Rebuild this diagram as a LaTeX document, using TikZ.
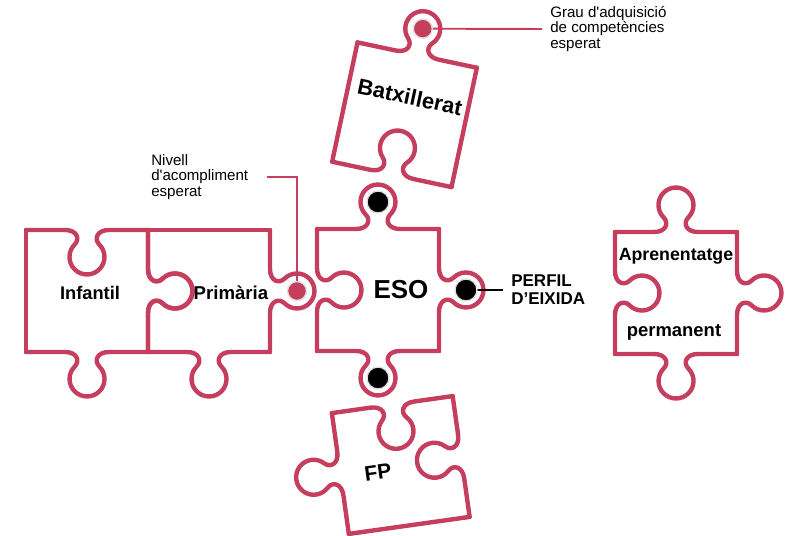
\documentclass[tikz,border=0pt]{standalone}
\usepackage{fontspec}
\setmainfont{Liberation Sans}
\definecolor{pzred}{RGB}{197,62,94}
\newcommand{\piece}[4]{%
  \foreach \ang/\s in {0/#1,90/#2,180/#3,270/#4}
    \pic[transform shape,rotate=\ang] {\s};}

\begin{document}
\begin{tikzpicture}[x=0.02cm,y=0.02cm,
    pzline/.style={draw=pzred,line width=2.5pt,line cap=round,line join=round},
    link/.style={line width=1.1pt},
    lbl/.style={align=left,inner xsep=4.5pt,inner ysep=0pt,
      font=\fontsize{8.6}{8.8}\selectfont},
    pztext/.style={font=\bfseries\fontsize{#1}{#1}\selectfont,inner sep=0pt},
    tab/.pic={\draw[pzline] (-61,61) -- (-22,61) .. controls (-10,61) and (-6.7,69.9) .. (-12.4,75.6)
      arc(225:-45:17.5) .. controls (6.7,69.9) and (10,61) .. (22,61) -- (61,61);},
    hole/.pic={\draw[pzline] (-61,61) -- (-22,61) .. controls (-10,61) and (-6.7,52.1) .. (-12.4,46.4)
      arc(135:405:17.5) .. controls (6.7,52.1) and (10,61) .. (22,61) -- (61,61);},
    flat/.pic={\draw[pzline] (-61,61) -- (61,61);},
    reddot/.style={fill=pzred,draw=black!12,line width=0.8pt},
    blackdot/.style={fill=black,draw=black!12,line width=0.8pt}]
  \useasboundingbox (0,0) rectangle (788,-536);

  % pieces: top, left, bottom, right
  \begin{scope}[shift={(87,-291)}]
    \piece{hole}{flat}{tab}{tab}
  \end{scope}
  \begin{scope}[shift={(209,-291)}]
    \piece{flat}{hole}{tab}{tab}
    \coordinate (pknob) at (88,0);
  \end{scope}
  \begin{scope}[shift={(378,-290)}]
    \piece{tab}{hole}{tab}{tab}
    \coordinate (etop) at (0,88);
    \coordinate (ebot) at (0,-88);
    \coordinate (eknob) at (88,0);
  \end{scope}
  \begin{scope}[shift={(676,-293)}]
    \piece{tab}{hole}{tab}{tab}
  \end{scope}
  \begin{scope}[shift={(404.5,-114.75)},rotate=-12]
    \piece{tab}{flat}{hole}{flat}
    \coordinate (bknob) at (0,88);
  \end{scope}
  \begin{scope}[shift={(400.75,-465)},rotate=8]
    \piece{hole}{tab}{flat}{hole}
  \end{scope}

  \node[pztext=10.4] (inf) at (90,-293) {Infantil};
  \node[pztext=10.6] (prim) at (231,-293) {Primària};
  \node[pztext=14.8] (eso) at (401,-290) {ESO};
  \node[pztext=10.1] (apr) at (676,-256) {Aprenentatge};
  \node[pztext=10.5] (perm) at (674,-332) {permanent};
  \node[pztext=12.5,rotate=-12] (batx) at (410,-97) {Batxillerat};
  \node[pztext=12,rotate=8] (fp) at (378,-472) {FP};

  \node[lbl,anchor=west] (grau) at (542,-29)
    {Grau d\textquotesingle adquisició\\de competències\\esperat};
  \node[lbl,anchor=west] (nivell) at (143,-177)
    {Nivell\\d\textquotesingle acompliment\\esperat};
  \node[lbl,anchor=west,font=\bfseries\fontsize{9.7}{10.2}\selectfont] (perfil) at (503,-290)
    {PERFIL\\D’EIXIDA};
  \coordinate (nend) at (267,-177);

  \draw[pzred,link] (bknob) -- (grau.west);
  \draw[pzred,link] (pknob) |- (nend);
  \draw[link] (eknob) -- (perfil.west);

  \foreach \k in {bknob,pknob}
    \filldraw[reddot] (\k) circle(9.5);
  \foreach \k in {etop,ebot,eknob}
    \filldraw[blackdot] (\k) circle(11);
\end{tikzpicture}
\end{document}
